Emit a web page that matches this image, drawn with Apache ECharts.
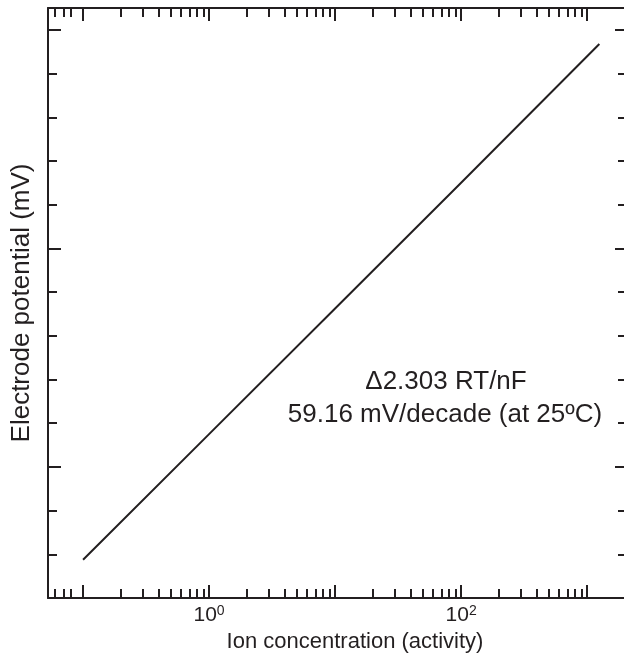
<!DOCTYPE html>
<html>
<head>
<meta charset="utf-8">
<script src="https://cdn.jsdelivr.net/npm/echarts@6/dist/echarts.min.js"></script>
<style>
  html, body { margin: 0; padding: 0; background: #fff; overflow: hidden; }
  #chart { width: 634px; height: 671px; }
</style>
</head>
<body>
<div id="chart"></div>
<script>
// line: ion activity vs electrode potential (mV)
const concentration = [0.1, 1, 10, 100, 1250];
const potential = [-42.5, 15, 72.5, 130, 193.5];

// log axis ticks
const xMajorTicks = [0.1, 1, 10, 100, 1000];
const xMinorTicks = [
  0.06, 0.07, 0.08,
  0.2, 0.3, 0.4, 0.5, 0.6, 0.7, 0.8, 0.9,
  2, 3, 4, 5, 6, 7, 8, 9,
  20, 30, 40, 50, 60, 70, 80, 90,
  200, 300, 400, 500, 600, 700, 800, 900,
];
const xTickLabels = [1, 100];

// potential axis has ticks but no labels
const yMajorTicks = [0, 100, 200];
const yMinorTicks = [-40, -20, 20, 40, 60, 80, 120, 140, 160, 180];

const FONT = "'Liberation Sans', Arial, Helvetica, sans-serif";
const INK = "#231f20";
const xMin = 0.0527, xMax = 2110;
const yMin = -60, yMax = 210;

function xAxisDef(position, ticks, len, withLine) {
  return {
    type: "log",
    logBase: 10,
    position: position,
    min: xMin,
    max: xMax,
    axisLine: { show: withLine, onZero: false, lineStyle: { color: INK, width: 2 } },
    axisTick: {
      show: true,
      inside: true,
      length: len,
      customValues: ticks,
      lineStyle: { color: INK, width: 2 },
    },
    axisLabel: { show: false },
    splitLine: { show: false },
    minorTick: { show: false },
  };
}

function yAxisDef(position, ticks, len, withLine) {
  return {
    type: "value",
    position: position,
    min: yMin,
    max: yMax,
    axisLine: { show: withLine, onZero: false, lineStyle: { color: INK, width: 2 } },
    axisTick: {
      show: true,
      inside: true,
      length: len,
      customValues: ticks,
      lineStyle: { color: INK, width: 2 },
    },
    axisLabel: { show: false },
    splitLine: { show: false },
  };
}

const xBottom = xAxisDef("bottom", xMajorTicks, 13, true);
xBottom.axisLabel = {
  show: true,
  customValues: xTickLabels,
  margin: 6,
  formatter: (v) => "{b|10}{s|" + Math.round(Math.log10(v)) + "}",
  rich: {
    b: { fontFamily: FONT, fontSize: 21, color: INK },
    s: { fontFamily: FONT, fontSize: 14, color: INK, verticalAlign: "top", padding: [0, 0, 9, 0] },
  },
};
xBottom.name = "Ion concentration (activity)";
xBottom.nameLocation = "middle";
xBottom.nameGap = 27;
xBottom.nameTextStyle = { fontFamily: FONT, fontSize: 22, color: INK, padding: [0, 0, 0, 34] };

const yLeft = yAxisDef("left", yMajorTicks, 13, true);
yLeft.name = "Electrode potential (mV)";
yLeft.nameLocation = "middle";
yLeft.nameGap = 13;
yLeft.nameTextStyle = { fontFamily: FONT, fontSize: 26, color: INK };

const chart = echarts.init(document.getElementById("chart"));
chart.setOption({
  animation: false,
  backgroundColor: "#fff",
  grid: { left: 48, top: 8, right: 6, bottom: 73, containLabel: false },
  xAxis: [
    xBottom,
    xAxisDef("bottom", xMinorTicks, 9, false),
    xAxisDef("top", xMajorTicks, 13, true),
    xAxisDef("top", xMinorTicks, 9, false),
  ],
  yAxis: [
    yLeft,
    yAxisDef("left", yMinorTicks, 9, false),
    yAxisDef("right", yMajorTicks, 13, true),
    yAxisDef("right", yMinorTicks, 10, false),
  ],
  graphic: [
    {
      type: "text",
      x: 446,
      y: 382,
      style: {
        text: "\u03942.303 RT/nF",
        fontFamily: FONT,
        fontSize: 26,
        fill: INK,
        align: "center",
        verticalAlign: "middle",
      },
    },
    {
      type: "text",
      x: 445,
      y: 415,
      style: {
        text: "59.16 mV/decade (at 25\u00baC)",
        fontFamily: FONT,
        fontSize: 26,
        fill: INK,
        align: "center",
        verticalAlign: "middle",
      },
    },
  ],
  series: [
    {
      type: "line",
      xAxisIndex: 0,
      yAxisIndex: 0,
      data: concentration.map((c, i) => [c, potential[i]]),
      showSymbol: false,
      lineStyle: { color: INK, width: 2 },
    },
  ],
});
</script>
</body>
</html>
